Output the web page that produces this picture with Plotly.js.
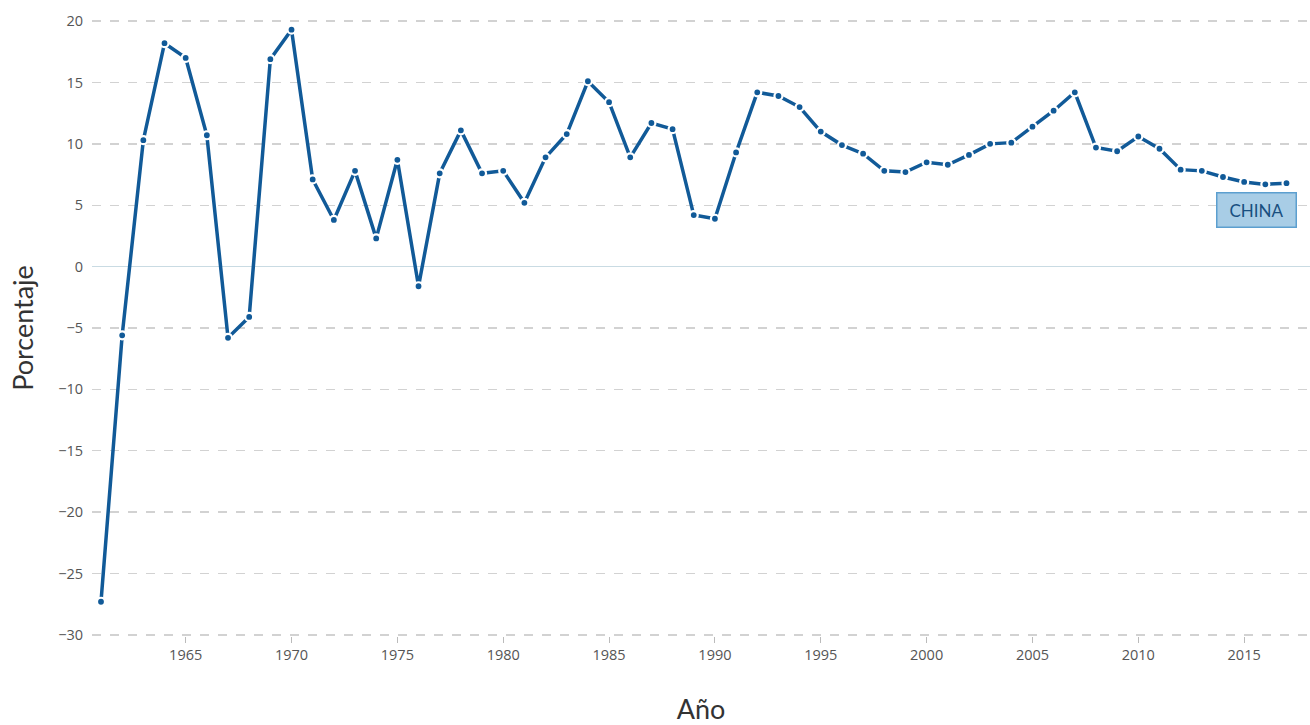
<!DOCTYPE html>
<html>
<head>
<meta charset="utf-8">
<script src="https://cdn.plot.ly/plotly-3.0.1.min.js"></script>
<style>html,body{margin:0;padding:0;background:#fff;}#chart{width:1310px;height:725px;}</style>
</head>
<body>
<div id="chart"></div>
<script>
const years = [1961,1962,1963,1964,1965,1966,1967,1968,1969,1970,1971,1972,1973,1974,1975,1976,1977,1978,1979,1980,1981,1982,1983,1984,1985,1986,1987,1988,1989,1990,1991,1992,1993,1994,1995,1996,1997,1998,1999,2000,2001,2002,2003,2004,2005,2006,2007,2008,2009,2010,2011,2012,2013,2014,2015,2016,2017];
const growth = [-27.3,-5.6,10.3,18.2,17.0,10.7,-5.8,-4.1,16.9,19.3,7.1,3.8,7.8,2.3,8.7,-1.6,7.6,11.1,7.6,7.8,5.2,8.9,10.8,15.1,13.4,8.9,11.7,11.2,4.2,3.9,9.3,14.2,13.9,13.0,11.0,9.9,9.2,7.8,7.7,8.5,8.3,9.1,10.0,10.1,11.4,12.7,14.2,9.7,9.4,10.6,9.6,7.9,7.8,7.3,6.9,6.7,6.8];
const seriesLabel = "CHINA";
const labelPos = {x: 2015.56, y: 4.6};

const trace = {
  x: years, y: growth, type: 'scatter', mode: 'lines+markers',
  line: {color: '#115a98', width: 3.5},
  marker: {color: '#115a98', size: 8, line: {color: '#ffffff', width: 2.2}},
  hoverinfo: 'x+y'
};

const layout = {
  width: 1310, height: 725,
  margin: {l: 92, r: 0, t: 20, b: 89},
  paper_bgcolor: '#fff', plot_bgcolor: '#fff',
  showlegend: false,
  font: {family: 'Open Sans, sans-serif', color: '#666'},
  xaxis: {
    range: [1960.575, 2018.11],
    tick0: 1965, dtick: 5,
    showgrid: false, zeroline: false, showline: false,
    ticks: 'outside', ticklen: 6, tickcolor: '#bbb', tickwidth: 1,
    tickfont: {size: 14.5, color: '#555', family: 'Open Sans, sans-serif'},
    title: {text: 'Año', font: {size: 27, color: '#333', family: 'Lato, sans-serif'}, standoff: 39}
  },
  yaxis: {
    range: [-30.09, 20.09],
    tick0: 0, dtick: 5,
    showgrid: true, gridcolor: '#d2d2d2', griddash: 'dash', gridwidth: 1.3,
    zeroline: true, zerolinecolor: '#c9dbe3', zerolinewidth: 1.5,
    showline: false, ticks: '',
    ticklabelstandoff: 8,
    tickfont: {size: 14.5, color: '#555', family: 'Open Sans, sans-serif'},
    title: {text: 'Porcentaje', font: {size: 27, color: '#333', family: 'Lato, sans-serif'}, standoff: 16}
  },
  annotations: [{
    x: labelPos.x, y: labelPos.y, xref: 'x', yref: 'y',
    text: seriesLabel, showarrow: false,
    font: {size: 17, color: '#184f80', family: 'Lato, sans-serif'},
    bgcolor: '#a8cde6', bordercolor: '#5c9fcf', borderwidth: 1.5,
    borderpad: 6, width: 66
  }]
};

Plotly.newPlot('chart', [trace], layout, {displayModeBar: false, staticPlot: true});
</script>
</body>
</html>
